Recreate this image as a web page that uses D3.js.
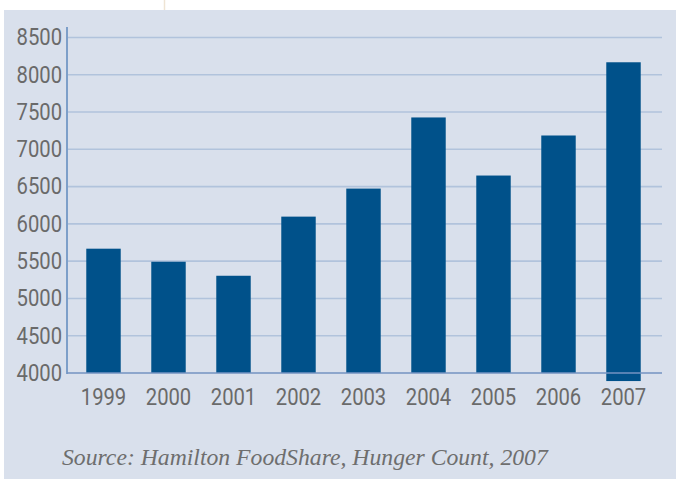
<!DOCTYPE html>
<html><head><meta charset="utf-8">
<script src="https://cdn.jsdelivr.net/npm/d3@7"></script>
<style>
html,body{margin:0;padding:0;background:#fff;}
svg{display:block;}
</style></head>
<body>
<script>
const years = ["1999","2000","2001","2002","2003","2004","2005","2006","2007"];
const counts = [5667, 5492, 5304, 6097, 6473, 7427, 6648, 7185, 8167];
const barBase = [4000, 4000, 4000, 4000, 4000, 4000, 4000, 4000, 3892];
const yTicks = [4000, 4500, 5000, 5500, 6000, 6500, 7000, 7500, 8000, 8500];
const sourceText = "Source: Hamilton FoodShare, Hunger Count, 2007";

const W = 676, H = 479;
const svg = d3.select("body").append("svg").attr("width", W).attr("height", H);

svg.append("rect").attr("x", 4).attr("y", 10).attr("width", W - 4).attr("height", H - 10).attr("fill", "#d9e0ec");
svg.append("line").attr("x1", 164.5).attr("x2", 164.5).attr("y1", 0).attr("y2", 10).attr("stroke", "#efe4d4").attr("stroke-width", 1.5);

const x = d3.scaleBand().domain(years).range([71, 656]).paddingInner(0.47).paddingOuter(0.235);
const y = d3.scaleLinear().domain([4000, 8640]).range([373, 27]);

const left = 67, right = 662;

// gridlines
svg.append("g").selectAll("line").data(yTicks.filter(d => d > 4000)).join("line")
  .attr("x1", left).attr("x2", right)
  .attr("y1", d => y(d)).attr("y2", d => y(d))
  .attr("stroke", "#b1c3dc").attr("stroke-width", 1.6);

// bars
svg.append("g").selectAll("rect").data(years).join("rect")
  .attr("x", d => x(d))
  .attr("width", x.bandwidth())
  .attr("y", (d, i) => y(counts[i]))
  .attr("height", (d, i) => y(barBase[i]) - y(counts[i]))
  .attr("fill", "#00518a");

// axes lines
svg.append("line").attr("x1", left).attr("x2", left).attr("y1", y(8640)).attr("y2", y(4000) + 1)
  .attr("stroke", "#7d9fc9").attr("stroke-width", 2);
svg.append("line").attr("x1", left).attr("x2", right).attr("y1", y(4000)).attr("y2", y(4000))
  .attr("stroke", "#7393c2").attr("stroke-width", 1.6);

const tickFont = "'Roboto', sans-serif";
// y tick labels
const yAxis = d3.axisLeft(y).tickValues(yTicks).tickSize(0).tickPadding(5).tickFormat(d3.format("d"));
const gy = svg.append("g").attr("transform", `translate(${left},0)`).call(yAxis);
gy.select(".domain").remove();
gy.selectAll("text").attr("fill", "#6a6a6a").style("font-family", tickFont).style("font-size", "23px")
  .attr("x", -5 / 0.88).attr("transform", "scale(0.88,1)");

// x tick labels
const xAxis = d3.axisBottom(x).tickSize(0).tickPadding(16);
const gx = svg.append("g").attr("transform", `translate(0,${y(4000)})`).call(xAxis);
gx.select(".domain").remove();
gx.selectAll("text").attr("fill", "#6a6a6a").style("font-family", tickFont).style("font-size", "23px")
  .attr("transform", "scale(0.88,1)");

svg.append("text").attr("x", 62).attr("y", 465)
  .attr("fill", "#6e6e6e")
  .style("font-family", "'Liberation Serif', 'DejaVu Serif', serif")
  .style("font-style", "italic").style("font-size", "23.7px")
  .text(sourceText);
</script>
</body></html>
